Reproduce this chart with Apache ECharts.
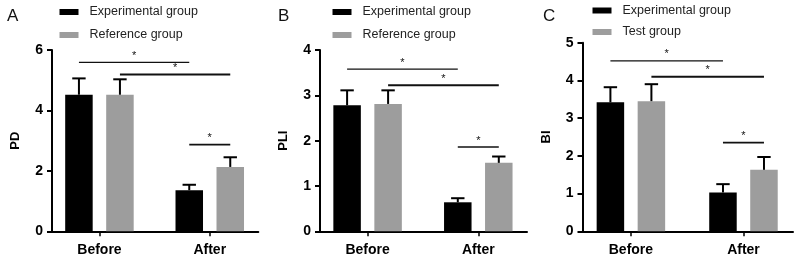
<!DOCTYPE html>
<html>
<head>
<meta charset="utf-8">
<script src="https://cdn.jsdelivr.net/npm/echarts@6/dist/echarts.min.js"></script>
<style>
html,body{margin:0;padding:0;background:#fff;}
#chart{width:800px;height:261px;}
</style>
</head>
<body>
<div id="chart"></div>
<script>
// ---------- data ----------
const categories = ['Before', 'After'];

// Panel A: PD
const pdExp = [4.52, 1.36];
const pdExpSD = [0.54, 0.18];
const pdRef = [4.52, 2.13];
const pdRefSD = [0.51, 0.32];
const pdSigY = [5.59, 5.19, 2.87];
const pdTicks = { max: 6, interval: 2 };

// Panel B: PLI
const pliExp = [2.78, 0.64];
const pliExpSD = [0.33, 0.09];
const pliRef = [2.81, 1.51];
const pliRefSD = [0.30, 0.14];
const pliSigY = [3.58, 3.22, 1.86];
const pliTicks = { max: 4, interval: 1 };

// Panel C: BI
const biExp = [3.42, 1.03];
const biExpSD = [0.40, 0.22];
const biRef = [3.45, 1.63];
const biRefSD = [0.45, 0.34];
const biSigY = [4.52, 4.10, 2.35];
const biTicks = { max: 5, interval: 1 };

// significance comparisons: [fromCategory, fromSide, toCategory, toSide] (side -1 = experimental bar, +1 = other bar)
const sigPairs = [[0, -1, 1, -1], [0, 1, 1, 1], [1, -1, 1, 1]];

// ---------- style ----------
const FONT = '"Liberation Sans", Arial, sans-serif';
const BAR_W = 27.5;
const BAR_GAP_PX = 13.5;
const OFF = (BAR_W + BAR_GAP_PX) / 2;
const BLACK = '#000000';
const GRAY = '#9d9d9d';

const panels = [
  { letter: 'A', name: 'PD', exp: pdExp, expSD: pdExpSD, ref: pdRef, refSD: pdRefSD, sig: pdSigY, ticks: pdTicks,
    refName: 'Reference group', legendGap: 10,
    grid: { left: 52, top: 50, width: 206.3, height: 181.3 }, legend: { left: 59.5, top: 5.5 }, title: { left: 2, top: 3 } },
  { letter: 'B', name: 'PLI', exp: pliExp, expSD: pliExpSD, ref: pliRef, refSD: pliRefSD, sig: pliSigY, ticks: pliTicks,
    refName: 'Reference group', legendGap: 10,
    grid: { left: 320, top: 50, width: 207, height: 181.3 }, legend: { left: 332.5, top: 5.5 }, title: { left: 273, top: 3 } },
  { letter: 'C', name: 'BI', exp: biExp, expSD: biExpSD, ref: biRef, refSD: biRefSD, sig: biSigY, ticks: biTicks,
    refName: 'Test group', legendGap: 8.5,
    grid: { left: 582.5, top: 42.7, width: 210.5, height: 188.6 }, legend: { left: 592.5, top: 4 }, title: { left: 538, top: 3 } }
];

const option = {
  animation: false,
  backgroundColor: '#ffffff',
  title: [], legend: [], grid: [], xAxis: [], yAxis: [], series: []
};

function errRender(params, api) {
  const x = api.value(0), y = api.value(1), sd = api.value(2), side = api.value(3);
  const p0 = api.coord([x, y]);
  const p1 = api.coord([x, y + sd]);
  const cx = p0[0] + side * OFF;
  return {
    type: 'group',
    children: [
      { type: 'line', shape: { x1: cx, y1: p0[1], x2: cx, y2: p1[1] }, style: { stroke: BLACK, lineWidth: 2 } },
      { type: 'line', shape: { x1: cx - 6.7, y1: p1[1], x2: cx + 6.7, y2: p1[1] }, style: { stroke: BLACK, lineWidth: 2 } }
    ]
  };
}

function sigRender(params, api) {
  const c1 = api.value(0), s1 = api.value(1), c2 = api.value(2), s2 = api.value(3), y = api.value(4), w = api.value(5);
  const a = api.coord([c1, y]);
  const b = api.coord([c2, y]);
  const xa = a[0] + s1 * OFF, xb = b[0] + s2 * OFF;
  return {
    type: 'group',
    children: [
      { type: 'line', shape: { x1: xa, y1: a[1], x2: xb, y2: a[1] }, style: { stroke: '#111', lineWidth: w } },
      { type: 'text', x: (xa + xb) / 2, y: a[1] - 1,
        style: { text: '*', fill: '#111', font: '11px ' + FONT, align: 'center', verticalAlign: 'bottom' } }
    ]
  };
}

const sigWidths = [1.3, 2, 1.6];

panels.forEach((p, i) => {
  option.title.push({ text: p.letter, left: p.title.left, top: p.title.top,
    textStyle: { fontFamily: FONT, fontSize: 17, fontWeight: 'normal', color: '#111' } });
  option.legend.push({
    data: ['Experimental group', p.refName].map(n => ({ name: n })),
    left: p.legend.left, top: p.legend.top, orient: 'vertical', padding: 0,
    icon: 'rect', itemWidth: 19, itemHeight: 6, itemGap: p.legendGap,
    textStyle: { fontFamily: FONT, fontSize: 12.5, color: '#222', padding: [0, 0, 0, 6] },
    selectedMode: false
  });
  option.grid.push(p.grid);
  option.xAxis.push({
    type: 'value', gridIndex: i, min: -0.43, max: 1.44,
    splitLine: { show: false },
    axisLine: { show: true, onZero: false, lineStyle: { color: BLACK, width: 2 } },
    axisTick: { show: true, customValues: [0, 1], length: 5, lineStyle: { color: BLACK, width: 1.5 } },
    axisLabel: { customValues: [0, 1], formatter: v => categories[Math.round(v)], margin: 12,
      fontFamily: FONT, fontSize: 14, fontWeight: 'bold', color: BLACK }
  });
  option.yAxis.push({
    type: 'value', gridIndex: i, min: 0, max: p.ticks.max, interval: p.ticks.interval,
    name: p.name, nameLocation: 'middle', nameRotate: 90, nameGap: 30,
    nameTextStyle: { fontFamily: FONT, fontSize: 13, fontWeight: 'bold', color: BLACK },
    splitLine: { show: false },
    axisLine: { show: true, onZero: false, lineStyle: { color: BLACK, width: 2 } },
    axisTick: { show: true, length: 5, lineStyle: { color: BLACK, width: 2 } },
    axisLabel: { margin: 9, fontFamily: FONT, fontSize: 14, fontWeight: 'bold', color: BLACK }
  });
  option.series.push({
    name: 'Experimental group', type: 'bar', xAxisIndex: i, yAxisIndex: i,
    barWidth: BAR_W, barGap: (BAR_GAP_PX / BAR_W * 100) + '%',
    itemStyle: { color: BLACK },
    data: categories.map((c, k) => [k, p.exp[k]])
  });
  option.series.push({
    name: p.refName, type: 'bar', xAxisIndex: i, yAxisIndex: i,
    barWidth: BAR_W, barGap: (BAR_GAP_PX / BAR_W * 100) + '%',
    itemStyle: { color: GRAY },
    data: categories.map((c, k) => [k, p.ref[k]])
  });
  option.series.push({
    type: 'custom', xAxisIndex: i, yAxisIndex: i, renderItem: errRender, silent: true, z: 3,
    data: categories.map((c, k) => [k, p.exp[k], p.expSD[k], -1])
      .concat(categories.map((c, k) => [k, p.ref[k], p.refSD[k], 1]))
  });
  option.series.push({
    type: 'custom', xAxisIndex: i, yAxisIndex: i, renderItem: sigRender, silent: true, z: 4,
    data: sigPairs.map((s, k) => [s[0], s[1], s[2], s[3], p.sig[k], sigWidths[k]])
  });
});

const chart = echarts.init(document.getElementById('chart'), null, { renderer: 'canvas' });
chart.setOption(option);
</script>
</body>
</html>
